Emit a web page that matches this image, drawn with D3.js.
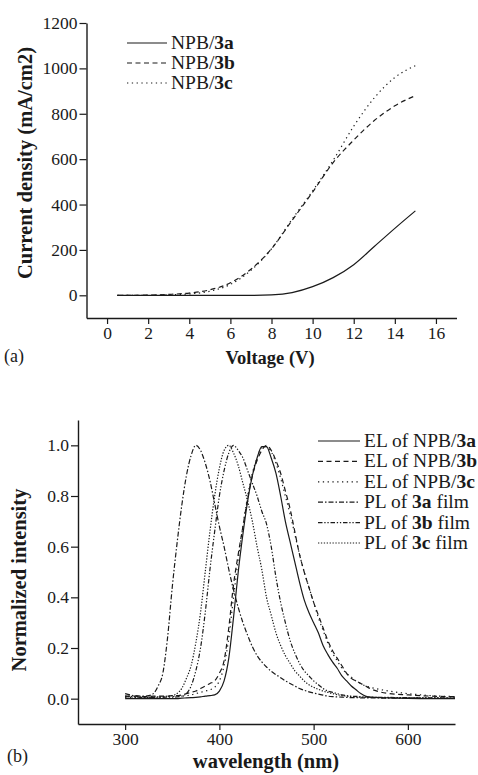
<!DOCTYPE html>
<html>
<head>
<meta charset="utf-8">
<script src="https://cdn.jsdelivr.net/npm/d3@7"></script>
<style>
  body { margin: 0; background: #fff; }
  svg { display: block; }
  svg text { font-family: "Liberation Serif", "Times New Roman", serif; }
</style>
</head>
<body>
<div id="chart"></div>
<script>
// ---- panel (a): J-V curves ----
const voltage = [0.5, 1, 2, 3, 4, 5, 6, 7, 8, 9, 10, 11, 12, 13, 14, 15];
const currentNPB3a = [0, 0, 0, 0, 0, 0, 0, 0, 2, 12, 38, 78, 135, 215, 295, 372];
const currentNPB3b = [0, 0, 1, 4, 10, 24, 55, 115, 205, 330, 455, 585, 684, 770, 835, 880];
const currentNPB3c = [0, 0, 0, 2, 6, 18, 48, 110, 205, 335, 460, 595, 745, 870, 960, 1012];
const voltageTicks = [0, 2, 4, 6, 8, 10, 12, 14, 16];
const currentTicks = [0, 200, 400, 600, 800, 1000, 1200];

// ---- panel (b): normalized spectra ----
const wavelength = [300, 310, 320, 325, 330, 335, 340, 345, 350, 355, 360, 365, 370, 375, 380, 385, 390, 395,
  400, 405, 410, 415, 420, 425, 430, 435, 440, 445, 450, 455, 460, 465, 470, 475, 480, 485, 490, 495,
  500, 505, 510, 515, 520, 525, 530, 535, 540, 545, 550, 555, 560, 580, 600, 625, 650];
const elNPB3a = [0, 0, 0, 0, 0, 0, 0, 0, 0, 0, 0.002, 0.003, 0.004, 0.005, 0.007, 0.01, 0.012, 0.015,
  0.03, 0.07, 0.16, 0.32, 0.5, 0.65, 0.78, 0.88, 0.95, 0.995, 0.995, 0.95, 0.89, 0.8, 0.7, 0.62, 0.54, 0.46, 0.39, 0.34,
  0.3, 0.26, 0.21, 0.175, 0.145, 0.12, 0.09, 0.07, 0.05, 0.035, 0.02, 0.01, 0.006, 0.003, 0.001, 0, 0];
const elNPB3b = [0.01, 0.01, 0.008, 0.008, 0.01, 0.01, 0.01, 0.01, 0.012, 0.012, 0.015, 0.02, 0.025, 0.03, 0.04, 0.05, 0.06, 0.07,
  0.1, 0.15, 0.28, 0.45, 0.57, 0.68, 0.79, 0.88, 0.94, 0.98, 1.0, 0.98, 0.94, 0.89, 0.82, 0.75, 0.66, 0.57, 0.5, 0.44,
  0.38, 0.33, 0.28, 0.23, 0.19, 0.16, 0.13, 0.1, 0.08, 0.07, 0.06, 0.05, 0.04, 0.02, 0.015, 0.01, 0.008];
const elNPB3c = [0.005, 0.005, 0.005, 0.005, 0.006, 0.006, 0.007, 0.008, 0.008, 0.01, 0.01, 0.012, 0.015, 0.02, 0.025, 0.03, 0.035, 0.045,
  0.07, 0.13, 0.24, 0.4, 0.55, 0.68, 0.8, 0.89, 0.95, 0.99, 0.995, 0.975, 0.93, 0.87, 0.8, 0.73, 0.65, 0.57, 0.5, 0.44,
  0.38, 0.32, 0.27, 0.22, 0.18, 0.15, 0.12, 0.1, 0.085, 0.07, 0.06, 0.05, 0.045, 0.03, 0.02, 0.012, 0.008];
const plFilm3a = [0.02, 0.012, 0.01, 0.012, 0.02, 0.05, 0.1, 0.24, 0.44, 0.61, 0.76, 0.88, 0.96, 1.0, 0.98, 0.93, 0.86, 0.77,
  0.68, 0.6, 0.51, 0.43, 0.36, 0.3, 0.25, 0.205, 0.17, 0.145, 0.125, 0.108, 0.095, 0.083, 0.07, 0.06, 0.05, 0.04, 0.033, 0.027,
  0.022, 0.018, 0.014, 0.01, 0.008, 0.007, 0.006, 0.005, 0.004, 0.004, 0.003, 0.003, 0.003, 0.002, 0.002, 0.001, 0.001];
const plFilm3b = [0.008, 0.006, 0.005, 0.005, 0.005, 0.005, 0.005, 0.006, 0.006, 0.007, 0.01, 0.02, 0.05, 0.11, 0.2, 0.34, 0.51, 0.66,
  0.8, 0.9, 0.97, 1.0, 0.98, 0.95, 0.9, 0.85, 0.8, 0.74, 0.69, 0.6, 0.48, 0.38, 0.3, 0.23, 0.18, 0.14, 0.11, 0.09,
  0.07, 0.055, 0.04, 0.03, 0.025, 0.02, 0.015, 0.012, 0.01, 0.009, 0.008, 0.007, 0.006, 0.005, 0.004, 0.003, 0.003];
const plFilm3c = [0.01, 0.008, 0.006, 0.006, 0.006, 0.007, 0.008, 0.01, 0.012, 0.02, 0.04, 0.08, 0.13, 0.22, 0.34, 0.5, 0.66, 0.8,
  0.91, 0.98, 1.0, 0.97, 0.92, 0.85, 0.78, 0.7, 0.6, 0.51, 0.4, 0.33, 0.26, 0.21, 0.17, 0.14, 0.11, 0.09, 0.07, 0.055,
  0.045, 0.037, 0.03, 0.025, 0.02, 0.016, 0.012, 0.01, 0.008, 0.007, 0.006, 0.005, 0.005, 0.004, 0.003, 0.003, 0.002];
const wavelengthTicks = [300, 400, 500, 600];
const intensityTicks = [0, 0.2, 0.4, 0.6, 0.8, 1.0];

const W = 478, H = 775;
const ink = "#1a1a1a";
const serif = "Liberation Serif";

const svg = d3.select("#chart").append("svg")
  .attr("width", W).attr("height", H)
  .attr("font-family", serif)
  .style("background", "#fff");

// dash patterns for each series
const styles = {
  solid: null,
  dash: "5,3.5",
  sparseDot: "1.3,3.5",
  dashDot: "5,2,1.5,2",
  dashDotDot: "4.5,1.8,1.3,1.8,1.3,1.8",
  dot: "1.3,1.6"
};

function drawAxes(g, x, y, xMajor, xMinor, yMajor, yMinor, xFmt, yFmt) {
  const xr = x.range(), yr = y.range();
  const ax = g.append("g").attr("transform", "translate(0," + yr[0] + ")");
  ax.call(d3.axisBottom(x).tickValues(xMinor).tickSize(3.5).tickSizeOuter(0).tickFormat(""));
  ax.call(d3.axisBottom(x).tickValues(xMajor).tickSize(6).tickSizeOuter(0).tickFormat(xFmt));
  const ay = g.append("g").attr("transform", "translate(" + xr[0] + ",0)");
  ay.call(d3.axisLeft(y).tickValues(yMinor).tickSize(4).tickSizeOuter(0).tickFormat(""));
  ay.call(d3.axisLeft(y).tickValues(yMajor).tickSize(7).tickSizeOuter(0).tickFormat(yFmt));

  g.selectAll("g").attr("font-family", serif);
  g.selectAll(".domain").attr("stroke", ink).attr("stroke-width", 1.4);
  g.selectAll(".tick line").attr("stroke", ink).attr("stroke-width", 1.2);
  g.selectAll(".tick text")
    .style("font-family", serif).style("font-size", "17.5px").attr("fill", ink);
  ax.selectAll(".tick text").attr("dy", "0.71em").attr("y", 9);
  ay.selectAll(".tick text").attr("x", -9);
}

function drawLegend(g, items, x0, x1, y0, step) {
  items.forEach((it, i) => {
    const yy = y0 + i * step;
    g.append("line")
      .attr("x1", x0).attr("x2", x1).attr("y1", yy).attr("y2", yy)
      .attr("stroke", ink).attr("stroke-width", 1.2)
      .attr("stroke-dasharray", it.dash);
    const t = g.append("text")
      .attr("x", x1 + 4).attr("y", yy + 6)
      .style("font-family", serif).style("font-size", "19.5px").attr("fill", ink);
    it.parts.forEach(p => {
      t.append("tspan").attr("font-weight", p[1] ? "bold" : "normal").text(p[0]);
    });
  });
}

// ================= panel (a) =================
const xa = d3.scaleLinear().domain([-1, 17]).range([86.5, 456.5]);
const ya = d3.scaleLinear().domain([-100, 1200]).range([318, 23]);
const ga = svg.append("g");
drawAxes(ga, xa, ya,
  voltageTicks, d3.range(-1, 18, 2),
  currentTicks, d3.range(-100, 1200, 200),
  d3.format("d"), d3.format("d"));

const seriesA = [
  { values: currentNPB3a, dash: styles.solid },
  { values: currentNPB3b, dash: styles.dash },
  { values: currentNPB3c, dash: styles.sparseDot }
];
const lineA = d3.line().curve(d3.curveMonotoneX)
  .x(d => xa(d[0])).y(d => ya(d[1]));
seriesA.forEach(s => {
  ga.append("path")
    .datum(voltage.map((v, i) => [v, s.values[i]]))
    .attr("d", lineA)
    .attr("fill", "none").attr("stroke", ink).attr("stroke-width", 1.2)
    .attr("stroke-dasharray", s.dash);
});

drawLegend(ga, [
  { dash: styles.solid, parts: [["NPB/", false], ["3a", true]] },
  { dash: styles.dash, parts: [["NPB/", false], ["3b", true]] },
  { dash: styles.sparseDot, parts: [["NPB/", false], ["3c", true]] }
], 127, 167, 43, 20);

ga.append("text")
  .attr("x", 270).attr("y", 364).attr("text-anchor", "middle")
  .style("font-family", serif).style("font-size", "18.5px").style("font-weight", "bold")
  .attr("fill", ink).text("Voltage (V)");
ga.append("text")
  .attr("transform", "translate(32,163) rotate(-90)").attr("text-anchor", "middle")
  .style("font-family", serif).style("font-size", "20.5px").style("font-weight", "bold")
  .attr("fill", ink).text("Current density (mA/cm2)");
ga.append("text")
  .attr("x", 4).attr("y", 362)
  .style("font-family", serif).style("font-size", "18px").attr("fill", ink).text("(a)");

// ================= panel (b) =================
const xb = d3.scaleLinear().domain([250, 650]).range([78, 455]);
const yb = d3.scaleLinear().domain([-0.1, 1.1]).range([724, 420]);
const gb = svg.append("g");
drawAxes(gb, xb, yb,
  wavelengthTicks, [250, 350, 450, 550, 650],
  intensityTicks, [-0.1, 0.1, 0.3, 0.5, 0.7, 0.9, 1.1],
  d3.format("d"), d3.format(".1f"));

const seriesB = [
  { values: elNPB3a, dash: styles.solid },
  { values: elNPB3b, dash: styles.dash },
  { values: elNPB3c, dash: styles.sparseDot },
  { values: plFilm3a, dash: styles.dashDot },
  { values: plFilm3b, dash: styles.dashDotDot },
  { values: plFilm3c, dash: styles.dot }
];
const lineB = d3.line().curve(d3.curveMonotoneX)
  .x(d => xb(d[0])).y(d => yb(d[1]));
seriesB.forEach(s => {
  gb.append("path")
    .datum(wavelength.map((w, i) => [w, s.values[i]]))
    .attr("d", lineB)
    .attr("fill", "none").attr("stroke", ink).attr("stroke-width", 1.2)
    .attr("stroke-dasharray", s.dash);
});

drawLegend(gb, [
  { dash: styles.solid, parts: [["EL of NPB/", false], ["3a", true]] },
  { dash: styles.dash, parts: [["EL of NPB/", false], ["3b", true]] },
  { dash: styles.sparseDot, parts: [["EL of NPB/", false], ["3c", true]] },
  { dash: styles.dashDot, parts: [["PL of ", false], ["3a", true], [" film", false]] },
  { dash: styles.dashDotDot, parts: [["PL of ", false], ["3b", true], [" film", false]] },
  { dash: styles.dot, parts: [["PL of ", false], ["3c", true], [" film", false]] }
], 318, 360, 441, 20.4);

gb.append("text")
  .attr("x", 266).attr("y", 768).attr("text-anchor", "middle")
  .style("font-family", serif).style("font-size", "20.5px").style("font-weight", "bold")
  .attr("fill", ink).text("wavelength (nm)");
gb.append("text")
  .attr("transform", "translate(26,580) rotate(-90)").attr("text-anchor", "middle")
  .style("font-family", serif).style("font-size", "20.5px").style("font-weight", "bold")
  .attr("fill", ink).text("Normalized intensity");
gb.append("text")
  .attr("x", 7).attr("y", 762)
  .style("font-family", serif).style("font-size", "18px").attr("fill", ink).text("(b)");
</script>
</body>
</html>
